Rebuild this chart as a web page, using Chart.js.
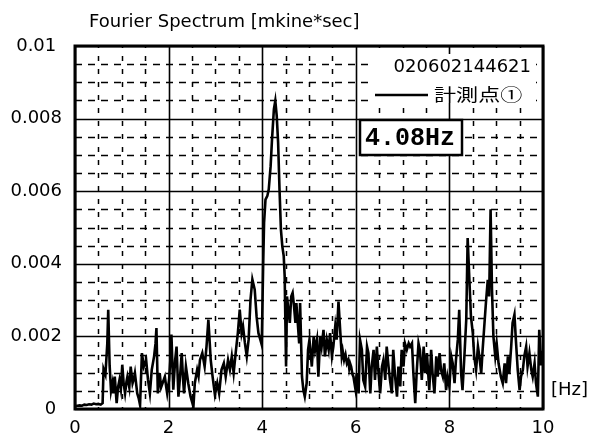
<!DOCTYPE html>
<html>
<head>
<meta charset="utf-8">
<script src="https://cdn.jsdelivr.net/npm/chart.js@4/dist/chart.umd.min.js"></script>
<style>
  html, body { margin: 0; padding: 0; background: #fff; }
  #c { display: block; }
</style>
</head>
<body>
<canvas id="c" width="590" height="443"></canvas>
<script>
// Fourier amplitude spectrum of record 020602144621, measuring point 1
const freqHz = [
  0.00, 0.05, 0.10, 0.15, 0.20, 0.25, 0.30, 0.35, 0.40, 0.45, 0.50, 0.55, 0.59, 0.61, 0.65, 0.69,
  0.71, 0.74, 0.77, 0.80, 0.82, 0.85, 0.89, 0.92, 0.95, 0.98, 1.01, 1.04, 1.07, 1.10, 1.12, 1.16,
  1.19, 1.23, 1.26, 1.28, 1.33, 1.36, 1.39, 1.43, 1.47, 1.52, 1.56, 1.60, 1.64, 1.69, 1.72, 1.74,
  1.77, 1.81, 1.84, 1.87, 1.92, 1.95, 1.97, 2.01, 2.04, 2.06, 2.10, 2.14, 2.17, 2.21, 2.25, 2.28,
  2.31, 2.33, 2.37, 2.42, 2.47, 2.50, 2.53, 2.56, 2.61, 2.64, 2.67, 2.72, 2.77, 2.81, 2.85, 2.88,
  2.90, 2.94, 2.99, 3.04, 3.08, 3.13, 3.18, 3.22, 3.27, 3.31, 3.35, 3.39, 3.44, 3.48, 3.52, 3.56,
  3.59, 3.63, 3.67, 3.71, 3.75, 3.79, 3.84, 3.88, 3.92, 3.96, 3.99, 4.02, 4.04, 4.07, 4.11, 4.14,
  4.18, 4.21, 4.25, 4.28, 4.31, 4.34, 4.37, 4.40, 4.43, 4.46, 4.48, 4.51, 4.53, 4.56, 4.59, 4.62,
  4.65, 4.68, 4.71, 4.73, 4.76, 4.79, 4.81, 4.85, 4.88, 4.91, 4.95, 4.98, 5.01, 5.06, 5.10, 5.13,
  5.17, 5.20, 5.24, 5.27, 5.31, 5.34, 5.38, 5.42, 5.45, 5.49, 5.52, 5.56, 5.59, 5.63, 5.67, 5.70,
  5.72, 5.75, 5.78, 5.81, 5.84, 5.86, 5.88, 5.90, 5.93, 5.95, 5.99, 6.02, 6.06, 6.09, 6.13, 6.16,
  6.20, 6.24, 6.27, 6.31, 6.34, 6.38, 6.41, 6.45, 6.48, 6.52, 6.56, 6.59, 6.63, 6.66, 6.70, 6.73,
  6.77, 6.80, 6.84, 6.88, 6.91, 6.95, 6.98, 7.02, 7.05, 7.09, 7.13, 7.16, 7.20, 7.23, 7.27, 7.30,
  7.34, 7.37, 7.41, 7.45, 7.48, 7.52, 7.57, 7.61, 7.64, 7.68, 7.72, 7.75, 7.79, 7.82, 7.86, 7.89,
  7.93, 7.96, 8.00, 8.04, 8.07, 8.11, 8.14, 8.18, 8.21, 8.25, 8.28, 8.32, 8.36, 8.39, 8.43, 8.46,
  8.50, 8.53, 8.57, 8.61, 8.64, 8.68, 8.71, 8.75, 8.78, 8.82, 8.85, 8.88, 8.91, 8.94, 8.98, 9.01,
  9.05, 9.10, 9.14, 9.18, 9.21, 9.25, 9.28, 9.32, 9.35, 9.39, 9.42, 9.46, 9.50, 9.53, 9.57, 9.60,
  9.64, 9.67, 9.71, 9.75, 9.78, 9.82, 9.85, 9.89, 9.92, 9.96, 10.00
];

const amplitude = [
  0.00008, 0.00009, 0.00010, 0.00009, 0.00012, 0.00011, 0.00013, 0.00012, 0.00015, 0.00013, 0.00014, 0.00012, 0.00016, 0.00110, 0.00095, 0.00180,
  0.00273, 0.00120, 0.00050, 0.00071, 0.00043, 0.00089, 0.00016, 0.00060, 0.00080, 0.00055, 0.00122, 0.00070, 0.00043, 0.00075, 0.00089, 0.00060,
  0.00117, 0.00071, 0.00085, 0.00099, 0.00043, 0.00030, 0.00011, 0.00154, 0.00117, 0.00135, 0.00080, 0.00043, 0.00108, 0.00145, 0.00180, 0.00223,
  0.00043, 0.00099, 0.00060, 0.00071, 0.00089, 0.00060, 0.00043, 0.00080, 0.00140, 0.00205, 0.00053, 0.00135, 0.00172, 0.00034, 0.00099, 0.00154,
  0.00080, 0.00043, 0.00117, 0.00071, 0.00034, 0.00020, 0.00006, 0.00071, 0.00108, 0.00090, 0.00135, 0.00154, 0.00117, 0.00172, 0.00246, 0.00180,
  0.00135, 0.00089, 0.00039, 0.00071, 0.00043, 0.00108, 0.00126, 0.00089, 0.00135, 0.00108, 0.00145, 0.00099, 0.00163, 0.00210, 0.00274, 0.00209,
  0.00228, 0.00182, 0.00145, 0.00191, 0.00301, 0.00357, 0.00329, 0.00255, 0.00209, 0.00191, 0.00177, 0.00393, 0.00513, 0.00577, 0.00587, 0.00605,
  0.00669, 0.00743, 0.00826, 0.00849, 0.00808, 0.00734, 0.00605, 0.00494, 0.00448, 0.00421, 0.00366, 0.00117, 0.00310, 0.00273, 0.00237, 0.00310,
  0.00320, 0.00283, 0.00237, 0.00292, 0.00237, 0.00181, 0.00292, 0.00089, 0.00052, 0.00034, 0.00071, 0.00163, 0.00191, 0.00117, 0.00200, 0.00163,
  0.00191, 0.00089, 0.00200, 0.00172, 0.00218, 0.00145, 0.00191, 0.00163, 0.00209, 0.00145, 0.00172, 0.00227, 0.00191, 0.00296, 0.00209, 0.00145,
  0.00160, 0.00135, 0.00150, 0.00126, 0.00135, 0.00112, 0.00125, 0.00117, 0.00095, 0.00089, 0.00057, 0.00099, 0.00043, 0.00191, 0.00163, 0.00080,
  0.00062, 0.00172, 0.00154, 0.00043, 0.00117, 0.00163, 0.00080, 0.00172, 0.00108, 0.00043, 0.00117, 0.00135, 0.00080, 0.00172, 0.00117, 0.00080,
  0.00043, 0.00163, 0.00089, 0.00034, 0.00117, 0.00062, 0.00163, 0.00117, 0.00181, 0.00163, 0.00181, 0.00172, 0.00181, 0.00099, 0.00016, 0.00099,
  0.00181, 0.00163, 0.00080, 0.00172, 0.00099, 0.00154, 0.00052, 0.00163, 0.00099, 0.00043, 0.00145, 0.00089, 0.00154, 0.00108, 0.00089, 0.00126,
  0.00052, 0.00089, 0.00062, 0.00145, 0.00126, 0.00071, 0.00135, 0.00191, 0.00273, 0.00099, 0.00052, 0.00145, 0.00246, 0.00471, 0.00347, 0.00255,
  0.00209, 0.00145, 0.00108, 0.00172, 0.00145, 0.00099, 0.00163, 0.00237, 0.00292, 0.00356, 0.00310, 0.00550, 0.00329, 0.00200, 0.00145, 0.00181,
  0.00126, 0.00089, 0.00071, 0.00126, 0.00071, 0.00145, 0.00099, 0.00172, 0.00237, 0.00260, 0.00191, 0.00108, 0.00052, 0.00089, 0.00108, 0.00145,
  0.00172, 0.00117, 0.00154, 0.00108, 0.00089, 0.00126, 0.00071, 0.00034, 0.00218, 0.00120, 0.00160
];

// Axis settings: labelled major lines, dashed minor lines in between
const xMin = 0, xMax = 10, xMinorStep = 0.5, xMajorStep = 2;
const yMin = 0, yMax = 0.01, yMinorStep = 0.0005, yMajorStep = 0.002;

const titleText = 'Fourier Spectrum [mkine*sec]';
const xUnitText = '[Hz]';
const recordId = '020602144621';
const seriesName = '計測点①';
const dominantFreqText = '4.08Hz';

const FONT = '"DejaVu Sans", "Liberation Sans", sans-serif';

function onStep(v, step) {
  const r = v / step;
  return Math.abs(r - Math.round(r)) < 1e-6;
}

// y labels: shorter strings sit slightly left of the common right edge
function yLabel(v) {
  if (!onStep(v, yMajorStep)) return '';
  const s = v === 0 ? '0' : String(parseFloat(v.toFixed(4)));
  return s.length < 5 ? s + ' ' : s;
}

// Solid major / dashed minor grid, drawn beneath the trace
const gridPlugin = {
  id: 'spectrumGrid',
  beforeDatasetsDraw(chart) {
    const { ctx, chartArea: a, scales: { x, y } } = chart;
    ctx.save();
    ctx.strokeStyle = '#000';
    x.ticks.forEach(t => {
      const px = Math.round(x.getPixelForValue(t.value)) + 0.5;
      const major = onStep(t.value, xMajorStep);
      ctx.lineWidth = major ? 1.6 : 1.5;
      ctx.setLineDash(major ? [] : [5, 8]);
      ctx.lineDashOffset = major ? 0 : 3;
      ctx.beginPath();
      ctx.moveTo(px, a.top);
      ctx.lineTo(px, a.bottom);
      ctx.stroke();
    });
    y.ticks.forEach(t => {
      const py = Math.round(y.getPixelForValue(t.value)) + 0.5;
      const major = onStep(t.value, yMajorStep);
      ctx.lineWidth = major ? 1.6 : 1.5;
      ctx.setLineDash(major ? [] : [7, 6]);
      ctx.lineDashOffset = 0;
      ctx.beginPath();
      ctx.moveTo(a.left, py);
      ctx.lineTo(a.right, py);
      ctx.stroke();
    });
    ctx.restore();
  },
  afterDatasetsDraw(chart) {
    const { ctx, chartArea: a } = chart;
    ctx.save();
    ctx.strokeStyle = '#000';
    ctx.lineWidth = 3;
    ctx.strokeRect(a.left, a.top, a.right - a.left, a.bottom - a.top);
    ctx.restore();
  }
};

// Title, unit label, legend and the dominant-frequency box
const annotationPlugin = {
  id: 'spectrumText',
  afterDraw(chart) {
    const { ctx, chartArea: a } = chart;
    ctx.save();
    ctx.fillStyle = '#000';

    ctx.font = '18px ' + FONT;
    ctx.textAlign = 'left';
    ctx.textBaseline = 'alphabetic';
    ctx.fillText(titleText, a.left + 14, 27);

    ctx.textBaseline = 'middle';
    ctx.fillText(xUnitText, a.right + 8, 390);

    // legend
    ctx.fillStyle = '#fff';
    ctx.fillRect(372, 54, 164, 49);
    ctx.fillStyle = '#000';
    ctx.textAlign = 'right';
    ctx.textBaseline = 'alphabetic';
    ctx.font = '18px ' + FONT;
    ctx.fillText(recordId, 531, 72);
    ctx.lineWidth = 2.5;
    ctx.beginPath();
    ctx.moveTo(375, 95);
    ctx.lineTo(428, 95);
    ctx.stroke();
    ctx.save();
    ctx.translate(434, 95);
    ctx.scale(1.3, 1);
    ctx.textAlign = 'left';
    ctx.textBaseline = 'middle';
    ctx.font = '17px "Noto Sans CJK JP", sans-serif';
    ctx.fillText(seriesName, 0, 0);
    ctx.restore();

    // dominant frequency box
    ctx.fillStyle = '#fff';
    ctx.fillRect(360, 120, 102, 35);
    ctx.strokeStyle = '#000';
    ctx.lineWidth = 2.5;
    ctx.strokeRect(360, 120, 102, 35);
    ctx.fillStyle = '#000';
    ctx.font = 'bold 25px "Liberation Mono", "DejaVu Sans Mono", monospace';
    ctx.textAlign = 'left';
    ctx.textBaseline = 'middle';
    ctx.fillText(dominantFreqText, 365, 139);
    ctx.restore();
  }
};

new Chart(document.getElementById('c'), {
  type: 'line',
  data: {
    datasets: [{
      label: seriesName,
      data: freqHz.map((f, i) => ({ x: f, y: amplitude[i] })),
      borderColor: '#000',
      borderWidth: 2.6,
      pointRadius: 0,
      tension: 0,
      fill: false
    }]
  },
  options: {
    responsive: false,
    animation: false,
    layout: { padding: { top: 46, right: 47, left: 0, bottom: 0 } },
    plugins: { legend: { display: false }, tooltip: { enabled: false }, title: { display: false } },
    scales: {
      x: {
        type: 'linear',
        min: xMin, max: xMax,
        grid: { display: false, drawTicks: false },
        border: { display: false },
        ticks: {
          stepSize: xMinorStep,
          autoSkip: false,
          maxRotation: 0,
          maxTicksLimit: 100,
          padding: 9,
          color: '#000',
          font: { family: FONT, size: 18 },
          callback: v => onStep(v, xMajorStep) ? String(Math.round(v)) : ''
        },
        afterFit: s => { s.height = 34; }
      },
      y: {
        type: 'linear',
        min: yMin, max: yMax,
        grid: { display: false, drawTicks: false },
        border: { display: false },
        ticks: {
          stepSize: yMinorStep,
          autoSkip: false,
          maxTicksLimit: 100,
          padding: 13,
          color: '#000',
          font: { family: FONT, size: 18 },
          callback: yLabel
        },
        afterFit: s => { s.width = 75; }
      }
    }
  },
  plugins: [gridPlugin, annotationPlugin]
});
</script>
</body>
</html>
